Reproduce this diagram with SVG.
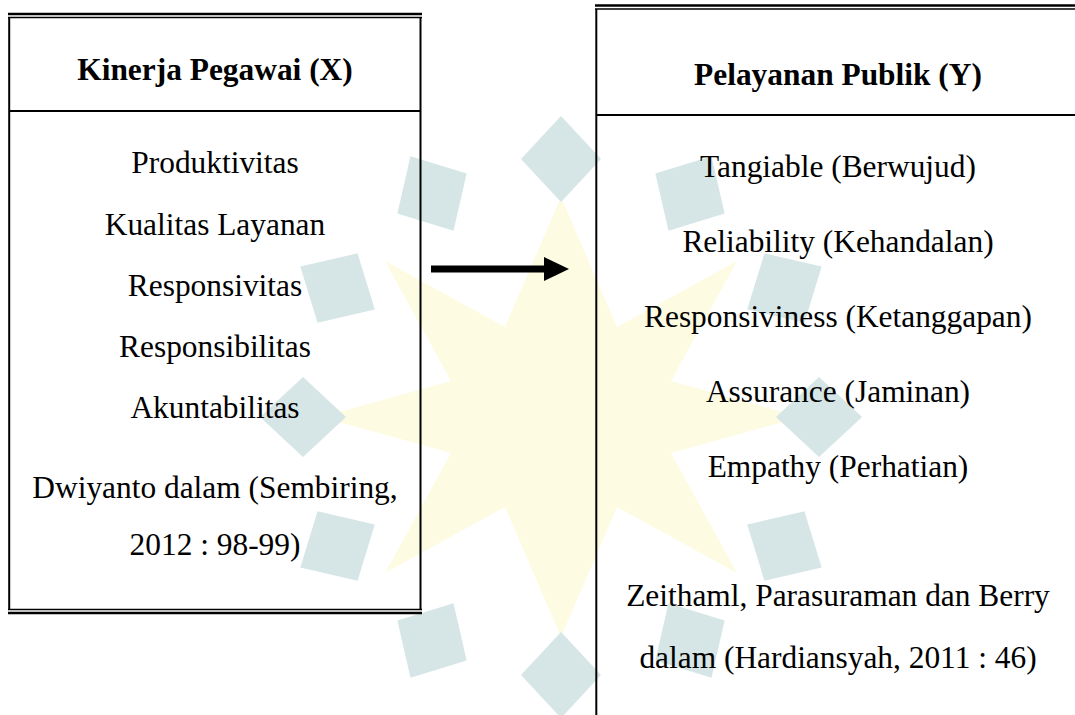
<svg xmlns="http://www.w3.org/2000/svg" xmlns:xlink="http://www.w3.org/1999/xlink" width="1075" height="715" viewBox="0 0 1075 715">
  <style>
    .ln { stroke: #000; fill: none; }
    .t { font-family: "Liberation Serif", "Times New Roman", serif; font-size: 31.4px; fill: #000; text-anchor: middle; }
    .h { font-weight: bold; }
    .wb { fill: #d6e6e6; }
    .wy { fill: #fdfbe2; }
  </style>
  <defs>
    <path id="wm-diamond" d="M561,116 L601,159 L561,202 L521,159 Z"/>
    <marker id="arrowhead" markerUnits="userSpaceOnUse" markerWidth="26" markerHeight="24" refX="2" refY="12" orient="auto">
      <path d="M0,0 L25,12 L0,24 Z" fill="#000"/>
    </marker>
  </defs>
  <rect width="1075" height="715" fill="#fff"/>

  <g id="watermark">
    <polygon class="wy" points="561,197 617,327 737,261 671,381 801,417 671,453 737,573 617,507 561,637 505,507 385,573 451,453 321,417 451,381 385,261 505,327"/>
    <use xlink:href="#wm-diamond" class="wb"/>
    <use xlink:href="#wm-diamond" class="wb" transform="rotate(30 561 417)"/>
    <use xlink:href="#wm-diamond" class="wb" transform="rotate(60 561 417)"/>
    <use xlink:href="#wm-diamond" class="wb" transform="rotate(90 561 417)"/>
    <use xlink:href="#wm-diamond" class="wb" transform="rotate(120 561 417)"/>
    <use xlink:href="#wm-diamond" class="wb" transform="rotate(150 561 417)"/>
    <use xlink:href="#wm-diamond" class="wb" transform="rotate(180 561 417)"/>
    <use xlink:href="#wm-diamond" class="wb" transform="rotate(210 561 417)"/>
    <use xlink:href="#wm-diamond" class="wb" transform="rotate(240 561 417)"/>
    <use xlink:href="#wm-diamond" class="wb" transform="rotate(270 561 417)"/>
    <use xlink:href="#wm-diamond" class="wb" transform="rotate(300 561 417)"/>
    <use xlink:href="#wm-diamond" class="wb" transform="rotate(330 561 417)"/>
  </g>

  <g id="node-kinerja">
    <line class="ln" x1="8" y1="14" x2="422" y2="14" stroke-width="2.6"/>
    <line class="ln" x1="8" y1="17.5" x2="422" y2="17.5" stroke-width="1.4"/>
    <line class="ln" x1="9.2" y1="17" x2="9.2" y2="610" stroke-width="2"/>
    <line class="ln" x1="420.5" y1="17" x2="420.5" y2="610" stroke-width="2"/>
    <line class="ln" x1="9" y1="111" x2="421" y2="111" stroke-width="2"/>
    <line class="ln" x1="8" y1="609.5" x2="422" y2="609.5" stroke-width="1.4"/>
    <line class="ln" x1="8" y1="613" x2="422" y2="613" stroke-width="2.4"/>
    <text class="t h" x="215" y="80">Kinerja Pegawai (X)</text>
    <text class="t" x="215" y="173">Produktivitas</text>
    <text class="t" x="215" y="235">Kualitas Layanan</text>
    <text class="t" x="215" y="296">Responsivitas</text>
    <text class="t" x="215" y="357">Responsibilitas</text>
    <text class="t" x="215" y="418">Akuntabilitas</text>
    <text class="t" x="215" y="498">Dwiyanto dalam (Sembiring,</text>
    <text class="t" x="215" y="555">2012 : 98-99)</text>
  </g>

  <g id="node-pelayanan">
    <line class="ln" x1="595" y1="5.5" x2="1075" y2="5.5" stroke-width="2.6"/>
    <line class="ln" x1="595" y1="9" x2="1075" y2="9" stroke-width="1.4"/>
    <line class="ln" x1="596.3" y1="9" x2="596.3" y2="715" stroke-width="2"/>
    <line class="ln" x1="596" y1="115" x2="1075" y2="115" stroke-width="2"/>
    <text class="t h" x="838" y="85">Pelayanan Publik (Y)</text>
    <text class="t" x="838" y="177">Tangiable (Berwujud)</text>
    <text class="t" x="838" y="252">Reliability (Kehandalan)</text>
    <text class="t" x="838" y="327">Responsiviness (Ketanggapan)</text>
    <text class="t" x="838" y="402">Assurance (Jaminan)</text>
    <text class="t" x="838" y="477">Empathy (Perhatian)</text>
    <text class="t" x="838" y="606">Zeithaml, Parasuraman dan Berry</text>
    <text class="t" x="838" y="668">dalam (Hardiansyah, 2011 : 46)</text>
  </g>

  <g id="connectors">
    <line class="ln" x1="431" y1="269" x2="546" y2="269" stroke-width="7" marker-end="url(#arrowhead)"/>
  </g>
</svg>
